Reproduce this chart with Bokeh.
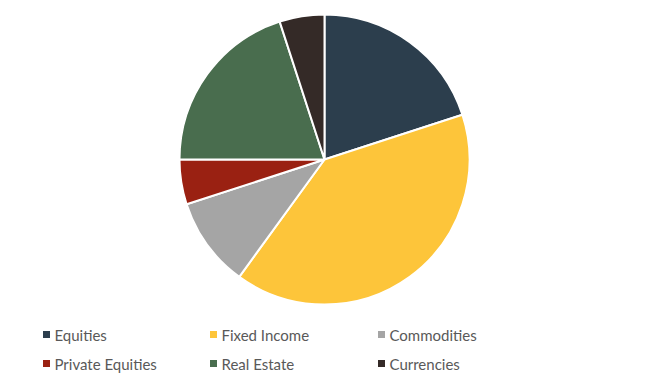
import math
from bokeh.plotting import figure
from bokeh.models import Range1d, ColumnDataSource
from bokeh.core.properties import value
from bokeh.embed import file_html
from bokeh.resources import INLINE

categories = ["Equities", "Fixed Income", "Commodities", "Private Equities", "Real Estate", "Currencies"]
shares = [20, 40, 10, 5, 20, 5]
colors = ["#2C3E4D", "#FDC53A", "#A5A5A5", "#9A2112", "#496D4E", "#342A27"]

W, H = 648, 383
p = figure(width=W, height=H, output_backend="svg", toolbar_location=None,
           x_range=Range1d(0, W), y_range=Range1d(H, 0), min_border=0)
p.axis.visible = False
p.grid.visible = False
p.outline_line_color = None
p.background_fill_color = "white"
p.border_fill_color = "white"

total = sum(shares)
starts, ends = [], []
cum = 0.0
for v in shares:
    starts.append(math.pi / 2 - 2 * math.pi * cum / total)
    cum += v
    ends.append(math.pi / 2 - 2 * math.pi * cum / total)

src = ColumnDataSource(dict(start=starts, end=ends, color=colors, cat=categories))
p.wedge(x=324, y=159, radius=145, start_angle="start", end_angle="end",
        direction="clock", fill_color="color", line_color="white", line_width=2, source=src)

# legend
col_x = [46, 213, 381]
row_y = [334, 363]
lx = [col_x[i % 3] for i in range(len(categories))]
ly = [row_y[i // 3] for i in range(len(categories))]
lsrc = ColumnDataSource(dict(x=lx, y=ly, tx=[x + 8 for x in lx], color=colors, cat=categories))
p.rect(x="x", y="y", width=7, height=7, fill_color="color", line_color=None, source=lsrc)
p.text(x="tx", y="y", text="cat", text_font=value("Lato"), text_font_size="15px",
       text_color="#595959", text_baseline="middle", source=lsrc)

open("out.html", "w").write(file_html(p, INLINE))
